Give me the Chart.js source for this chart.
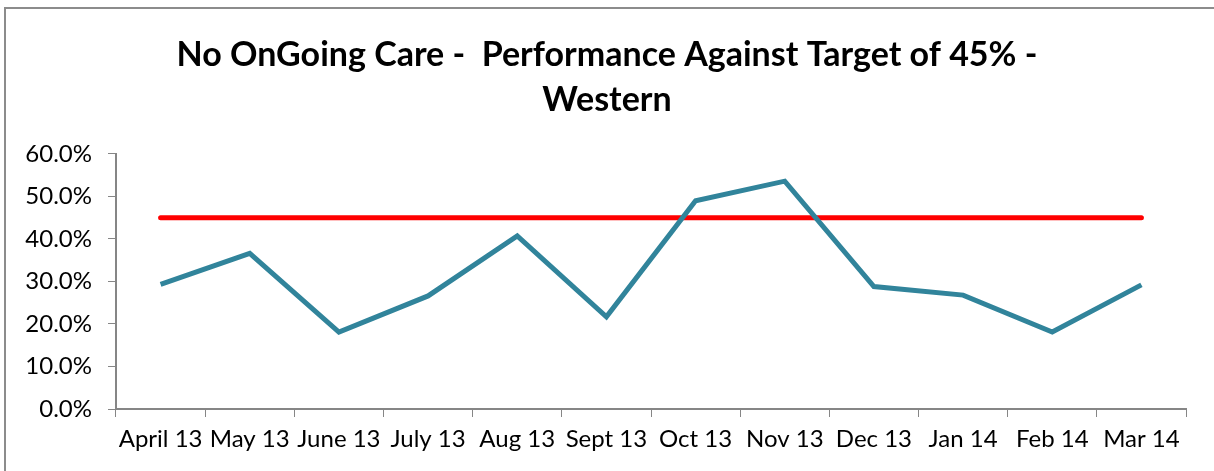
<!DOCTYPE html>
<html>
<head>
<meta charset="utf-8">
<script src="https://cdn.jsdelivr.net/npm/chart.js@4.4.1/dist/chart.umd.min.js"></script>
<style>
  html, body { margin: 0; padding: 0; background: #fff; }
  #wrap { width: 1214px; height: 471px; position: relative; }
</style>
</head>
<body>
<div id="wrap"><canvas id="perfChart" width="1214" height="471"></canvas></div>
<script>
// --- chart data ---
const months = ['April 13', 'May 13', 'June 13', 'July 13', 'Aug 13', 'Sept 13',
                'Oct 13', 'Nov 13', 'Dec 13', 'Jan 14', 'Feb 14', 'Mar 14'];
const performance = [29.3, 36.6, 18.1, 26.6, 40.7, 21.7, 49.0, 53.6, 28.8, 26.8, 18.1, 29.2];
const target = [45, 45, 45, 45, 45, 45, 45, 45, 45, 45, 45, 45];
const yTicks = [0, 10, 20, 30, 40, 50, 60];

const FONT = 'Lato, "Open Sans", sans-serif';
const AXIS_GREY = '#868686';

// outer frame round the whole chart, like the spreadsheet chart border
const framePlugin = {
    id: 'frame',
    beforeDraw(chart) {
        const ctx = chart.ctx;
        ctx.save();
        ctx.fillStyle = '#fff';
        ctx.fillRect(0, 0, chart.width, chart.height);
        ctx.strokeStyle = '#8c8c8c';
        ctx.lineWidth = 2;
        ctx.strokeRect(5, 8, chart.width + 20, chart.height + 20);
        ctx.restore();
    }
};

const ctx = document.getElementById('perfChart').getContext('2d');
new Chart(ctx, {
    type: 'line',
    data: {
        labels: months,
        datasets: [{
            label: 'Performance',
            data: performance,
            borderColor: '#31849b',
            borderWidth: 5,
            pointRadius: 0,
            tension: 0,
            borderJoinStyle: 'miter'
        }, {
            label: 'Target',
            data: target,
            borderColor: '#ff0000',
            borderWidth: 5,
            pointRadius: 0,
            borderCapStyle: 'round'
        }]
    },
    options: {
        responsive: false,
        animation: false,
        layout: { padding: { top: 10, right: 0, bottom: 0, left: 0 } },
        plugins: {
            legend: { display: false },
            tooltip: { enabled: false },
            title: {
                display: true,
                text: ['No OnGoing Care -  Performance Against Target of 45% -', 'Western'],
                color: '#000',
                font: { family: FONT, size: 34, weight: 'bold', lineHeight: 1.32 },
                padding: { top: 22.5, bottom: 31.7 }
            }
        },
        scales: {
            x: {
                offset: true,
                grid: {
                    offset: true,
                    drawOnChartArea: false,
                    drawTicks: true,
                    tickLength: 8,
                    color: AXIS_GREY
                },
                border: { color: AXIS_GREY, width: 2 },
                ticks: {
                    color: '#000',
                    font: { family: FONT, size: 24 },
                    padding: 8,
                    maxRotation: 0,
                    autoSkip: false
                },
                afterFit(scale) { scale.height = 62; }
            },
            y: {
                min: 0,
                max: 60,
                afterBuildTicks(scale) {
                    scale.ticks = yTicks.map(v => ({ value: v }));
                },
                grid: {
                    drawOnChartArea: false,
                    drawTicks: true,
                    tickLength: 8,
                    color: AXIS_GREY
                },
                border: { color: AXIS_GREY, width: 2 },
                ticks: {
                    color: '#000',
                    font: { family: FONT, size: 24 },
                    padding: 16,
                    callback: v => v.toFixed(1) + '%'
                },
                afterFit(scale) { scale.width = 116; }
            },
            // empty right-hand axis, only reserves the blank margin on the right
            yRight: {
                position: 'right',
                display: true,
                grid: { display: false },
                border: { display: false },
                ticks: { display: false },
                afterFit(scale) { scale.width = 28; }
            }
        }
    },
    plugins: [framePlugin]
});
</script>
</body>
</html>
